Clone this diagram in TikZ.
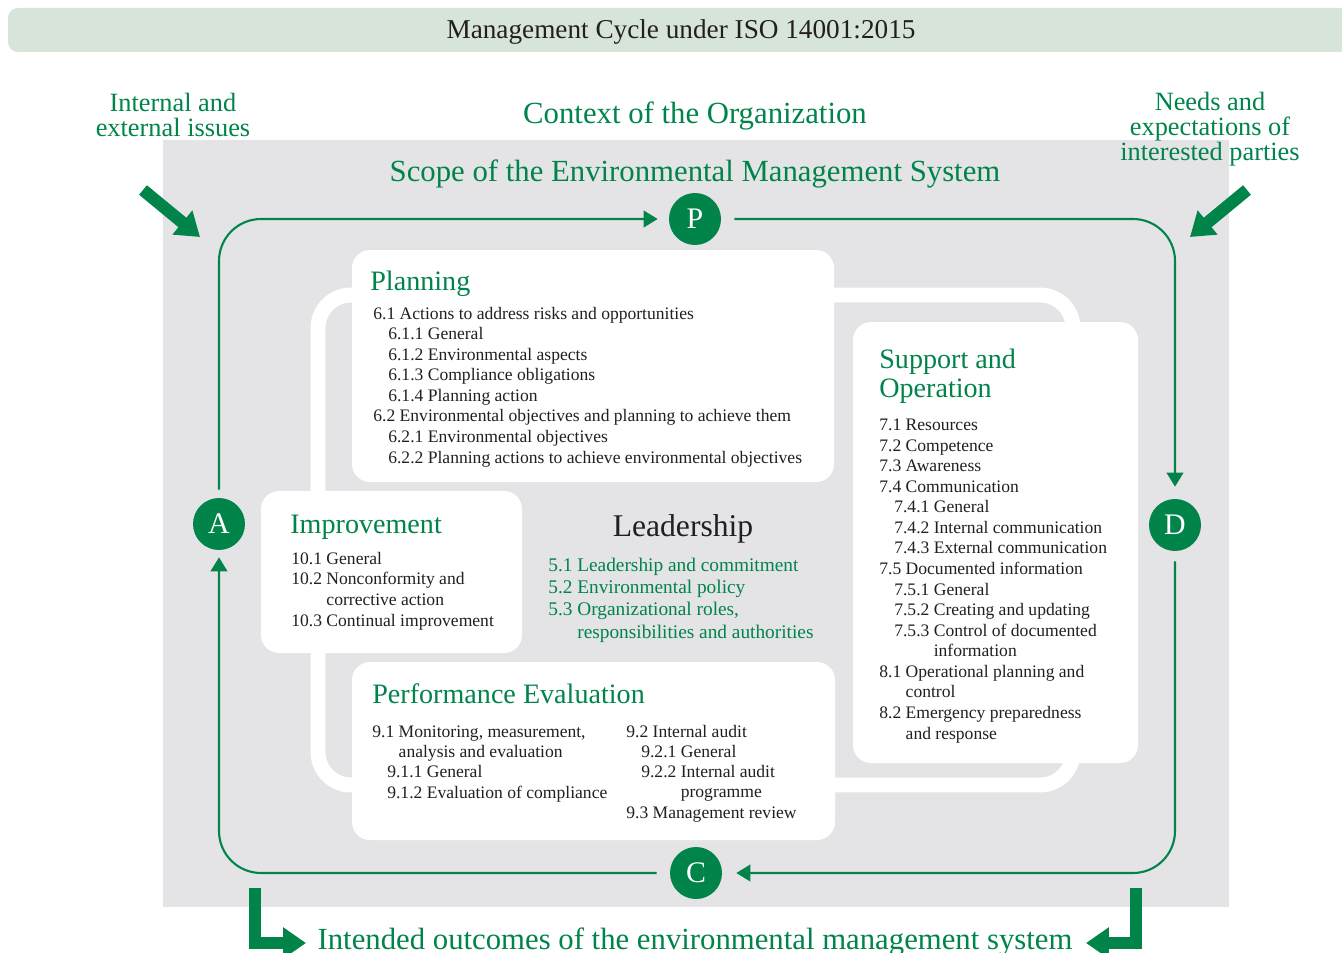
\documentclass[tikz,border=0pt]{standalone}
\usepackage{fontspec}
\setmainfont{Liberation Serif}
\usetikzlibrary{arrows.meta}

\definecolor{isogreen}{RGB}{0,132,74}
\definecolor{headband}{RGB}{215,228,217}
\definecolor{scopegray}{RGB}{228,228,230}
\definecolor{ink}{RGB}{35,31,32}

\tikzset{
  cycleline/.style={draw=isogreen, line width=1.2pt, rounded corners=0.84cm,
    -{Triangle[length=8pt,width=9.5pt]}},
  stage/.style={circle, fill=isogreen, text=white, minimum size=1.04cm,
    inner sep=0pt, font=\fontsize{17}{17}\selectfont},
  bigarrow/.style={draw=isogreen, line width=7pt, line join=miter,
    -{Triangle[length=13pt,width=17pt]}},
  panel/.style={fill=white, rounded corners=0.36cm},
  boxtitle/.style={anchor=base west, inner sep=0pt, text=isogreen,
    font=\fontsize{16}{16}\selectfont},
  items/.style={anchor=base west, inner sep=0pt, align=left, text=ink,
    font=\fontsize{10}{11.7}\selectfont},
  outside/.style={inner sep=0pt, align=center, text=isogreen,
    font=\fontsize{15}{14.2}\selectfont},
}
\newcommand{\ind}{\hspace*{8.5pt}}

\begin{document}
\begin{tikzpicture}[x=0.02cm, y=-0.02cm]
   \useasboundingbox (0,0) rectangle (1342,953);

   % header and scope
   \fill[headband, rounded corners=0.2cm] (8,8) rectangle (1370,52);
   \node[inner sep=0pt, text=ink, font=\fontsize{15.5}{15.5}\selectfont] (head) at (681,32)
      {Management Cycle under ISO 14001:2015};
   \fill[scopegray] (163,140) rectangle (1229,907);

   \node[outside, font=\fontsize{17.5}{17.5}\selectfont] (context) at (695,116) {Context of the Organization};
   \node[outside, font=\fontsize{17.5}{17.5}\selectfont] (scope) at (695,174) {Scope of the Environmental Management System};
   \node[outside] (issues) at (173,115) {Internal and\\external issues};
   \node[outside] (needs) at (1210,129) {Needs and\\expectations of\\interested parties};
   \node[outside, anchor=base, font=\fontsize{17.5}{17.5}\selectfont] (outcomes) at (695,949)
      {Intended outcomes of the environmental management system};

   % big arrows
   \coordinate (issuesA) at (143,190);
   \coordinate (issuesB) at (200,237);
   \coordinate (needsA) at (1247,190);
   \coordinate (needsB) at (1190,237);
   \coordinate (outL) at (255,888);
   \coordinate (outLtip) at (306,943);
   \coordinate (outR) at (1136,888);
   \coordinate (outRtip) at (1086,943);
   \draw[bigarrow] (issuesA) -- (issuesB);
   \draw[bigarrow] (needsA) -- (needsB);
   \draw[bigarrow] (outL) |- (outLtip);
   \draw[bigarrow] (outR) |- (outRtip);

   % white ring and panels
   \draw[white, line width=8.5pt, rounded corners=0.66cm] (318,295) rectangle (1073,785);
   \fill[panel] (352,250) rectangle (834,482);
   \fill[panel] (853,322) rectangle (1138,763);
   \fill[panel] (261,491) rectangle (522,653);
   \fill[panel] (352,662) rectangle (835,840);

   % PDCA
   \node[stage] (P) at (695,219) {P};
   \node[stage] (D) at (1175,525) {D};
   \node[stage] (C) at (696,873) {C};
   \node[stage] (A) at (219,524) {A};

   \draw[cycleline, shorten <=0.16cm, shorten >=0.22cm] (A.north) |- (P.west);
   \draw[cycleline, shorten <=0.26cm, shorten >=0.24cm] (P.east) -| (D.north);
   \draw[cycleline, shorten <=0.2cm, shorten >=0.28cm] (D.south) |- (C.east);
   \draw[cycleline, shorten <=0.26cm, shorten >=0.14cm] (C.west) -| (A.south);

   % planning (base = last line)
   \node[boxtitle] (plantitle) at (370,290) {Planning};
   \node[items] (planitems) at (373,463) {6.1 Actions to address risks and opportunities\\
      \ind 6.1.1 General\\
      \ind 6.1.2 Environmental aspects\\
      \ind 6.1.3 Compliance obligations\\
      \ind 6.1.4 Planning action\\
      6.2 Environmental objectives and planning to achieve them\\
      \ind 6.2.1 Environmental objectives\\
      \ind 6.2.2 Planning actions to achieve environmental objectives};

   % support and operation
   \node[boxtitle, align=left] (suptitle) at (879,397) {Support and\\Operation};
   \node[items] (supitems) at (879,739) {7.1 Resources\\
      7.2 Competence\\
      7.3 Awareness\\
      7.4 Communication\\
      \ind 7.4.1 General\\
      \ind 7.4.2 Internal communication\\
      \ind 7.4.3 External communication\\
      7.5 Documented information\\
      \ind 7.5.1 General\\
      \ind 7.5.2 Creating and updating\\
      \ind 7.5.3 Control of documented\\
      \ind\phantom{7.5.3 }information\\
      8.1 Operational planning and\\
      \phantom{8.1 }control\\
      8.2 Emergency preparedness\\
      \phantom{8.2 }and response};

   % improvement
   \node[boxtitle] (imptitle) at (290,533) {Improvement};
   \node[items] (impitems) at (291,626) {10.1 General\\
      10.2 Nonconformity and\\
      \phantom{10.2 }corrective action\\
      10.3 Continual improvement};

   % leadership
   \node[inner sep=0pt, anchor=base, text=ink, font=\fontsize{18}{18}\selectfont] (leadtitle) at (683,536) {Leadership};
   \node[items, text=isogreen, font=\fontsize{11}{12.6}\selectfont] (leaditems) at (548,638)
      {5.1 Leadership and commitment\\
      5.2 Environmental policy\\
      5.3 Organizational roles,\\
      \phantom{5.3 }responsibilities and authorities};

   % performance evaluation
   \node[boxtitle] (perftitle) at (372,703) {Performance Evaluation};
   \node[items, font=\fontsize{10}{11.5}\selectfont] (perfleft) at (372,798) {9.1 Monitoring, measurement,\\
      \phantom{9.1 }analysis and evaluation\\
      \ind 9.1.1 General\\
      \ind 9.1.2 Evaluation of compliance};
   \node[items, font=\fontsize{10}{11.5}\selectfont] (perfright) at (626,818) {9.2 Internal audit\\
      \ind 9.2.1 General\\
      \ind 9.2.2 Internal audit\\
      \ind\phantom{9.2.2 }programme\\
      9.3 Management review};

\end{tikzpicture}
\end{document}
